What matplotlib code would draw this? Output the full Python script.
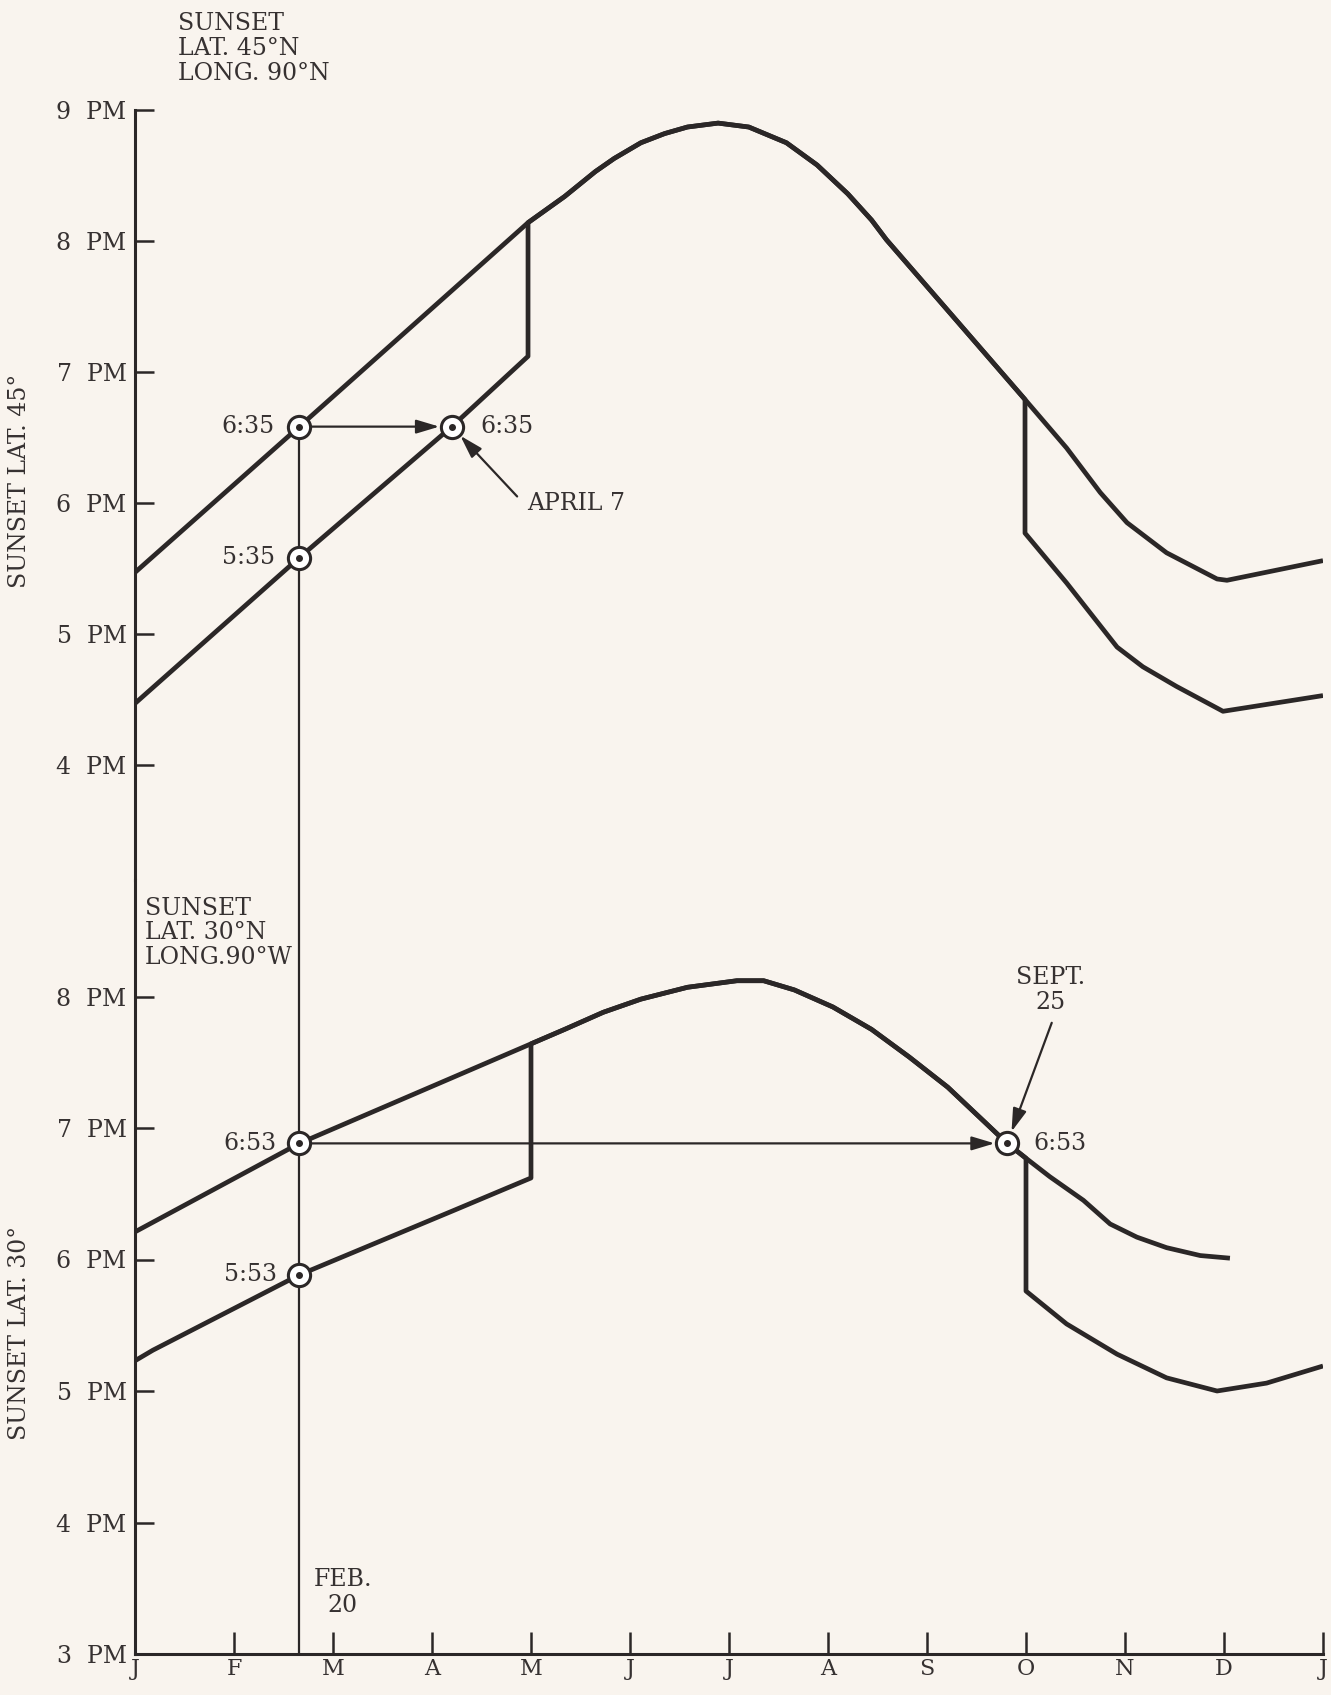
import matplotlib.pyplot as plt

# month axis: 0 = Jan 1 ... 12 = next Jan 1, values in hours PM
month_labels = ['J', 'F', 'M', 'A', 'M', 'J', 'J', 'A', 'S', 'O', 'N', 'D', 'J']

# LAT 45 - standard sunset curve
lat45_x = [0, 1.66, 3.97, 4.34, 4.65, 4.84, 5.11, 5.35, 5.58, 5.89, 6.20, 6.58, 6.89, 7.20,
           7.44, 7.59, 8.21, 8.99, 9.41, 9.75, 10.02, 10.42, 10.93, 11.03, 12.0]
lat45_y = [5.47, 6.583, 8.14, 8.34, 8.53, 8.63, 8.75, 8.82, 8.87, 8.90, 8.87, 8.75, 8.58, 8.36,
           8.16, 8.01, 7.47, 6.79, 6.42, 6.08, 5.85, 5.62, 5.42, 5.41, 5.56]
# LAT 45 - shifted curve, early and late parts (middle follows the standard curve)
lat45_early_x = [0, 1.66, 3.2, 3.97]
lat45_early_y = [4.47, 5.583, 6.583, 7.12]
lat45_late_x = [8.99, 9.41, 9.92, 10.18, 10.52, 10.99, 12.0]
lat45_late_y = [5.77, 5.39, 4.90, 4.75, 4.60, 4.41, 4.53]

# LAT 30 - standard sunset curve
lat30_x = [0, 1.66, 4.0, 4.34, 4.73, 5.11, 5.58, 6.08, 6.35, 6.66, 7.05, 7.44, 7.82, 8.21,
           8.59, 8.81, 9.0, 9.24, 9.58, 9.85, 10.12, 10.42, 10.76, 11.06]
lat30_y = [6.21, 6.883, 7.64, 7.75, 7.88, 7.98, 8.07, 8.12, 8.12, 8.05, 7.92, 7.75, 7.54, 7.31,
           7.04, 6.883, 6.77, 6.63, 6.45, 6.27, 6.17, 6.09, 6.03, 6.01]
lat30_early_x = [0, 0.18, 1.66, 3.21, 4.0]
lat30_early_y = [5.23, 5.31, 5.883, 6.37, 6.62]
lat30_late_x = [9.0, 9.41, 9.92, 10.42, 10.93, 11.43, 12.0]
lat30_late_y = [5.76, 5.51, 5.28, 5.10, 5.00, 5.06, 5.19]

feb20 = 1.66
apr7 = 3.2
sep25 = 8.81

upper_ticks = [4, 5, 6, 7, 8, 9]
lower_ticks = [3, 4, 5, 6, 7, 8]

bg = '#f9f4ee'
ink = '#2b2727'
text_ink = '#363131'
font = 'DejaVu Serif'
fs = 17

plt.rcParams['font.family'] = [font, 'DejaVu Sans']

W, H = 1331, 1695
fig = plt.figure(figsize=(W / 100, H / 100), dpi=100, facecolor=bg)


def fx(px):
    return px / W


def fy(py):
    return 1 - py / H


x_left, x_right = 135, 1323
y_top, y_mid, y_bot = 110, 880, 1654
ax1 = fig.add_axes([fx(x_left), fy(y_mid), fx(x_right - x_left), fy(y_top) - fy(y_mid)])
ax2 = fig.add_axes([fx(x_left), fy(y_bot), fx(x_right - x_left), fy(y_mid) - fy(y_bot)])

ax1.set_ylim(9 - (y_mid - y_top) / 131.0, 9)
ax2.set_ylim(3, 3 + (y_bot - y_mid) / 131.5)

for ax in (ax1, ax2):
    ax.set_facecolor(bg)
    ax.set_xlim(0, 12)
    ax.spines['top'].set_visible(False)
    ax.spines['right'].set_visible(False)
    ax.spines['left'].set_linewidth(2.2)
    ax.spines['left'].set_color(ink)
    ax.tick_params(axis='y', direction='in', length=14, width=1.8, color=ink,
                   labelcolor=text_ink, labelsize=fs, pad=6)

ax1.spines['bottom'].set_visible(False)
ax1.set_xticks([])
ax1.set_yticks(upper_ticks)
ax1.set_yticklabels([f'{t}  PM' for t in upper_ticks])

ax2.spines['bottom'].set_linewidth(2.2)
ax2.spines['bottom'].set_color(ink)
ax2.set_yticks(lower_ticks)
ax2.set_yticklabels([f'{t}  PM' for t in lower_ticks])
ax2.set_xticks(range(len(month_labels)))
ax2.set_xticklabels(month_labels)
ax2.tick_params(axis='x', direction='in', length=16, width=1.8, color=ink,
                labelcolor=text_ink, labelsize=16, pad=3)

curve_kw = dict(color=ink, lw=3.4, solid_joinstyle='round', solid_capstyle='butt')


def shifted_path(std_x, std_y, ex, ey, lx, ly):
    # early shifted part, jump up to the standard curve, follow it, drop to the late part
    mid = [(x, y) for x, y in zip(std_x, std_y) if ex[-1] <= x <= lx[0]]
    xs = ex + [p[0] for p in mid] + lx
    ys = ey + [p[1] for p in mid] + ly
    return xs, ys


# upper panel curves
ax1.plot(lat45_x, lat45_y, **curve_kw)
sx, sy = shifted_path(lat45_x, lat45_y, lat45_early_x, lat45_early_y, lat45_late_x, lat45_late_y)
ax1.plot(sx, sy, **curve_kw)

# lower panel curves
ax2.plot(lat30_x, lat30_y, **curve_kw)
sx, sy = shifted_path(lat30_x, lat30_y, lat30_early_x, lat30_early_y, lat30_late_x, lat30_late_y)
ax2.plot(sx, sy, **curve_kw)

# Feb 20 vertical line
ax1.plot([feb20, feb20], [2.0, lat45_y[1]], color=ink, lw=1.6)
ax2.plot([feb20, feb20], [3.0, 9.0], color=ink, lw=1.6)

arrow_kw = dict(arrowstyle='-|>,head_length=1.4,head_width=0.42', color=ink, lw=1.6,
                shrinkA=8, shrinkB=9)

# upper panel arrows
ax1.annotate('', xy=(apr7, 6.583), xytext=(feb20, 6.583), arrowprops=arrow_kw)
ax1.annotate('', xy=(apr7, 6.583), xytext=(3.86, 6.05),
             arrowprops=dict(arrow_kw, shrinkA=0))
# lower panel arrows
ax2.annotate('', xy=(sep25, 6.883), xytext=(feb20, 6.883), arrowprops=arrow_kw)
ax2.annotate('', xy=(sep25, 6.883), xytext=(9.26, 7.80),
             arrowprops=dict(arrow_kw, shrinkA=0))


def mark(ax, x, y):
    ax.plot(x, y, 'o', ms=16, mfc='white', mec=ink, mew=2.2, zorder=5)
    ax.plot(x, y, 'o', ms=4, color=ink, zorder=6)


for x, y in [(feb20, 6.583), (feb20, 5.583), (apr7, 6.583)]:
    mark(ax1, x, y)
for x, y in [(feb20, 6.883), (feb20, 5.883), (sep25, 6.883)]:
    mark(ax2, x, y)

txt = dict(fontsize=fs, color=text_ink)
ax1.text(1.414, 6.583, '6:35', ha='right', va='center', **txt)
ax1.text(1.414, 5.583, '5:35', ha='right', va='center', **txt)
ax1.text(3.485, 6.583, '6:35', ha='left', va='center', **txt)
ax1.text(3.96, 6.0, 'APRIL 7', ha='left', va='center', **txt)

ax2.text(1.434, 6.883, '6:53', ha='right', va='center', **txt)
ax2.text(1.434, 5.883, '5:53', ha='right', va='center', **txt)
ax2.text(9.07, 6.883, '6:53', ha='left', va='center', **txt)
ax2.text(9.25, 8.05, 'SEPT.\n25', ha='center', va='center', multialignment='center',
         linespacing=1.1, **txt)
ax2.text(2.10, 3.47, 'FEB.\n20', ha='center', va='center', multialignment='center',
         linespacing=1.15, **txt)
ax2.text(0.10, 8.76, 'SUNSET\nLAT. 30°N\nLONG.90°W', ha='left', va='top',
         linespacing=1.1, **txt)

fig.text(fx(178), fy(12), 'SUNSET\nLAT. 45°N\nLONG. 90°N', ha='left', va='top',
         linespacing=1.1, **txt)
fig.text(fx(20), fy(481), 'SUNSET LAT. 45°', rotation=90, ha='center', va='center', **txt)
fig.text(fx(20), fy(1333), 'SUNSET LAT. 30°', rotation=90, ha='center', va='center', **txt)

fig.savefig('out.png', dpi=100, facecolor=bg)
